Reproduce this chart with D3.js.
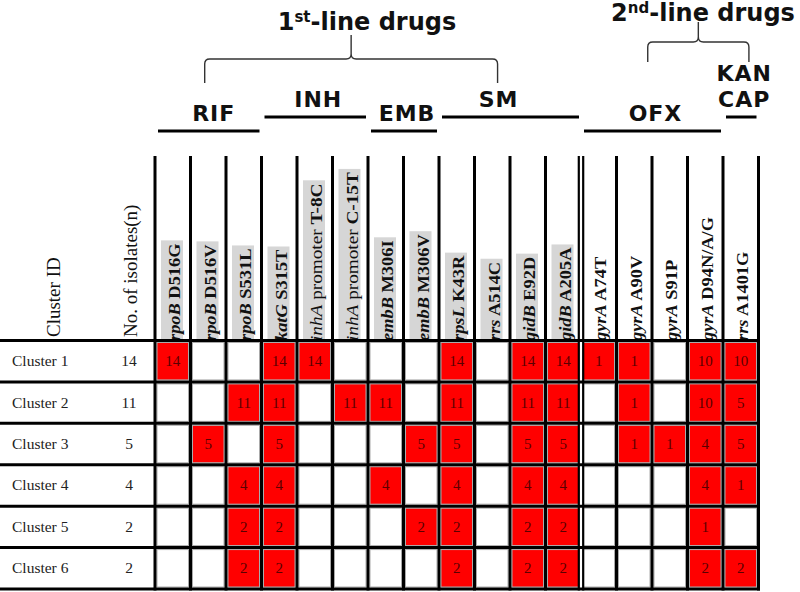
<!DOCTYPE html>
<html>
<head>
<meta charset="utf-8">
<script src="https://cdn.jsdelivr.net/npm/d3@7"></script>
<style>
  html, body { margin: 0; padding: 0; background: #fff; }
  svg { display: block; }
</style>
</head>
<body>
<div id="chart"></div>
<script>
// ---- data ----
const clusters = ["Cluster 1", "Cluster 2", "Cluster 3", "Cluster 4", "Cluster 5", "Cluster 6"];
const isolates = [14, 11, 5, 4, 2, 2];

const genes = ["rpoB", "rpoB", "rpoB", "katG", "inhA", "inhA", "embB", "embB", "rpsL",
               "rrs", "gidB", "gidB", "gyrA", "gyrA", "gyrA", "gyrA", "rrs"];
const changes = ["D516G", "D516V", "S531L", "S315T", "promoter T-8C", "promoter C-15T",
                 "M306I", "M306V", "K43R", "A514C", "E92D", "A205A",
                 "A74T", "A90V", "S91P", "D94N/A/G", "A1401G"];

// isolates carrying each mutation, per cluster (null = none)
const counts = [
  [14, null, null, 14, 14, null, null, null, 14, null, 14, 14, 1, 1, null, 10, 10],
  [null, null, 11, 11, null, 11, 11, null, 11, null, 11, 11, null, 1, null, 10, 5],
  [null, 5, null, 5, null, null, null, 5, 5, null, 5, 5, null, 1, 1, 4, 5],
  [null, null, 4, 4, null, null, 4, null, 4, null, 4, 4, null, null, null, 4, 1],
  [null, null, 2, 2, null, null, null, 2, 2, null, 2, 2, null, null, null, 1, null],
  [null, null, 2, 2, null, null, null, null, 2, null, 2, 2, null, null, null, 2, 2]
];

const drugs = [["RIF"], ["INH"], ["EMB"], ["SM"], ["OFX"], ["KAN", "CAP"]];
const drugFirstCol = [0, 3, 6, 8, 12, 16];
const drugLastCol = [2, 5, 7, 11, 15, 16];

const lineOrdinal = ["1", "2"];
const lineSuffix = ["st", "nd"];
const lineFirstDrug = [0, 4];
const lineLastDrug = [3, 5];

// ---- layout ----
const W = 800, H = 592;
const serif = "'Liberation Serif', 'Times New Roman', serif";
const sans = "'DejaVu Sans', Verdana, sans-serif";

const svg = d3.select("#chart").append("svg")
  .attr("width", W).attr("height", H);

const x = d3.scaleBand().domain(d3.range(genes.length)).range([155, 758.5]);
const y = d3.scaleBand().domain(clusters).range([340.5, 589]);
const gridTop = 156;
const colEdge = i => i < genes.length ? x(i) : x.range()[1];
const lastFirstLineCol = drugLastCol[lineLastDrug[0]];

// column labels (drawn first so the grid covers their start)
const labels = svg.append("g");
genes.forEach((g, i) => {
  const promoter = changes[i].startsWith("promoter");
  const lg = labels.append("g")
    .attr("transform", `translate(${x(i) + 25},341) rotate(-90) scale(${promoter ? 1.1 : 1.05},1)`);
  const bg = lg.append("rect").attr("fill", "#d6d6d6");
  const t = lg.append("text")
    .attr("font-family", serif).attr("font-size", 17.5)
    .attr("font-weight", "bold").attr("fill", "#111");
  if (promoter) {
    const [word, code] = changes[i].split(" ");
    t.append("tspan").attr("font-style", "italic").attr("font-weight", "normal").text(g);
    t.append("tspan").attr("font-weight", "normal").text(" " + word + " ");
    t.append("tspan").text(code);
  } else {
    t.append("tspan").attr("font-style", "italic").text(g);
    t.append("tspan").text(" " + changes[i]);
  }
  if (i <= lastFirstLineCol) {
    const len = t.node().getComputedTextLength();
    bg.attr("x", -2).attr("y", -19).attr("width", len + 5).attr("height", 22);
  } else {
    bg.remove();
  }
});

// header titles
[["Cluster ID", 60], ["No. of isolates(n)", 137]].forEach(([txt, bx]) => {
  svg.append("text")
    .attr("transform", `translate(${bx},337) rotate(-90)`)
    .attr("font-family", serif).attr("font-size", 19).attr("fill", "#111")
    .text(txt);
});

// cells
const rows = svg.append("g");
clusters.forEach((c, r) => {
  const cy = y(c);
  rows.append("text")
    .attr("x", 12).attr("y", cy + y.bandwidth() / 2 + 5)
    .attr("font-family", serif).attr("font-size", 15.5).attr("fill", "#222")
    .text(c);
  rows.append("text")
    .attr("x", 129).attr("y", cy + y.bandwidth() / 2 + 5)
    .attr("text-anchor", "middle")
    .attr("font-family", serif).attr("font-size", 15.5).attr("fill", "#222")
    .text(isolates[r]);
  counts[r].forEach((v, i) => {
    rows.append("rect")
      .attr("x", x(i) + 2).attr("y", cy + 2)
      .attr("width", x.bandwidth() - 4).attr("height", y.bandwidth() - 4)
      .attr("fill", v == null ? "#fff" : "#ff0000")
      .attr("stroke", "#aaa").attr("stroke-width", 1);
    if (v != null) {
      rows.append("text")
        .attr("x", x(i) + x.bandwidth() / 2).attr("y", cy + y.bandwidth() / 2 + 5)
        .attr("text-anchor", "middle")
        .attr("font-family", serif).attr("font-size", 15).attr("fill", "#5a0000")
        .text(v);
    }
  });
});

// grid lines
const grid = svg.append("g").attr("stroke", "#000");
d3.range(genes.length + 1).forEach(i => {
  const gx = colEdge(i);
  if (i === drugFirstCol[lineFirstDrug[1]]) {
    [-2.2, 2.2].forEach(d => grid.append("line")
      .attr("x1", gx + d).attr("x2", gx + d)
      .attr("y1", gridTop).attr("y2", y.range()[1] + 1.5)
      .attr("stroke-width", 2.2));
  } else {
    grid.append("line")
      .attr("x1", gx).attr("x2", gx)
      .attr("y1", gridTop).attr("y2", y.range()[1] + 1.5)
      .attr("stroke-width", 3);
  }
});
clusters.concat([null]).forEach(c => {
  const gy = c == null ? y.range()[1] : y(c);
  grid.append("line")
    .attr("x1", 0).attr("x2", 760)
    .attr("y1", gy).attr("y2", gy)
    .attr("stroke-width", 3);
});

// drug group headers
const head = svg.append("g");
const levelLine = [131, 117];
drugs.forEach((d, k) => {
  const x0 = x(drugFirstCol[k]) + 3;
  const x1 = colEdge(drugLastCol[k] + 1) - 2;
  const ly = levelLine[k % 2];
  head.append("line")
    .attr("x1", x0).attr("x2", x1).attr("y1", ly).attr("y2", ly)
    .attr("stroke", "#000").attr("stroke-width", 3);
  const nudge = d[0] === "SM" ? -12 : (d[0] === "RIF" ? 5 : 3);
  d.forEach((line, j) => {
    head.append("text")
      .attr("x", (x0 + x1) / 2 + nudge)
      .attr("y", ly - 10 - (d.length - 1 - j) * 26)
      .attr("text-anchor", "middle")
      .attr("font-family", sans).attr("font-weight", "bold").attr("font-size", 22)
      .attr("letter-spacing", 1).attr("fill", "#111")
      .text(line);
  });
});

// braces for 1st / 2nd line drugs
const braces = [
  { from: 1.4, to: 9.65, bar: 59, end: 83, tip: 35, text: 30, textMid: 367 },
  { from: 13.88, to: 16.73, bar: 42, end: 62, tip: 22, text: 21, textMid: 703 }
];
const colPos = f => x.range()[0] + f * x.step();
braces.forEach((b, k) => {
  const x1 = colPos(b.from), x2 = colPos(b.to), xm = (x1 + x2) / 2, r = 5;
  const p = d3.path();
  p.moveTo(x1, b.end); p.lineTo(x1, b.bar + r);
  p.quadraticCurveTo(x1, b.bar, x1 + r, b.bar);
  p.lineTo(xm - r, b.bar);
  p.quadraticCurveTo(xm, b.bar, xm, b.bar - r);
  p.lineTo(xm, b.tip);
  p.moveTo(xm, b.bar - r);
  p.quadraticCurveTo(xm, b.bar, xm + r, b.bar);
  p.lineTo(x2 - r, b.bar);
  p.quadraticCurveTo(x2, b.bar, x2, b.bar + r);
  p.lineTo(x2, b.end);
  head.append("path").attr("d", p.toString())
    .attr("fill", "none").attr("stroke", "#333").attr("stroke-width", 1.4);

  const t = head.append("text")
    .attr("x", b.textMid).attr("y", b.text)
    .attr("text-anchor", "middle")
    .attr("font-family", sans).attr("font-weight", "bold").attr("font-size", 24)
    .attr("fill", "#111");
  t.append("tspan").text(lineOrdinal[k]);
  t.append("tspan").attr("font-size", 15).attr("dy", -8).text(lineSuffix[k]);
  t.append("tspan").attr("dy", 8).text("-line drugs");
});
</script>
</body>
</html>
